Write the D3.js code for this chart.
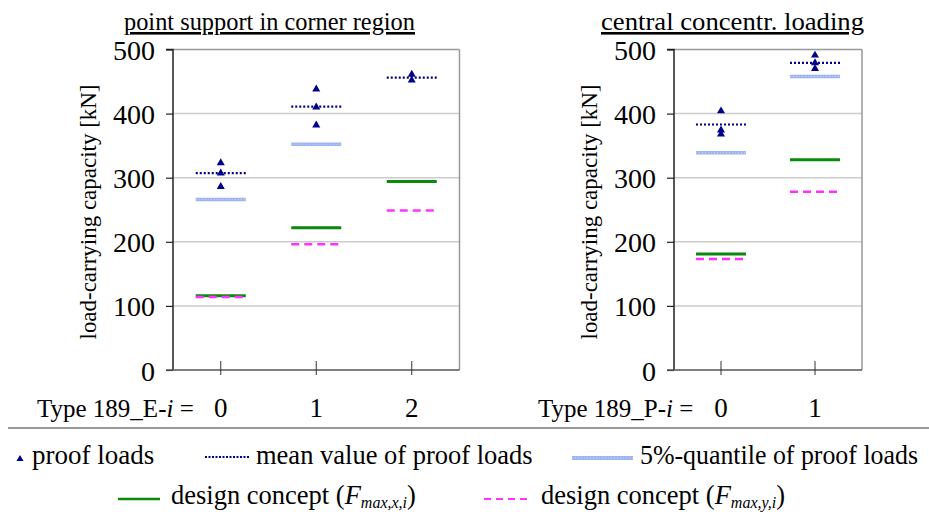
<!DOCTYPE html>
<html><head><meta charset="utf-8">
<script src="https://cdn.jsdelivr.net/npm/d3@7"></script>
<style>body{margin:0;background:#fff}svg{display:block}text{font-family:"Liberation Serif","Times New Roman",serif;fill:#000}</style>
</head><body><svg id="c" width="929" height="515"></svg>
<script>
// ---- data ----
const leftTitle = "point support in corner region";
const rightTitle = "central concentr. loading";
const yTicks = [0,100,200,300,400,500];
const leftCats = ["0","1","2"];
const leftProof = [[323,307,286],[438,410,382],[461,452]];
const leftMean = [307,411,456];
const leftQ5 = [266,352,null];
const leftFx = [116,222,294];
const leftFy = [114,196,249];
const rightCats = ["0","1"];
const rightProof = [[404,374,368],[491,479,470]];
const rightMean = [383,479];
const rightQ5 = [339,458];
const rightFx = [181,328];
const rightFy = [173,278];

const svg = d3.select("#c");
const y = d3.scaleLinear().domain([0,500]).range([370,49.5]);

function panel(o){
  const x = d3.scaleBand().domain(o.cats).range([o.x0,o.x1]);
  const cx = c => x(c) + x.bandwidth()/2;
  const g = svg.append("g");
  g.selectAll(".gl").data(yTicks.filter(t=>t>0)).join("line")
    .attr("x1",o.x0).attr("x2",o.x1).attr("y1",d=>y(d)).attr("y2",d=>y(d))
    .attr("stroke",d=>d===500?"#999":"#ccc").attr("stroke-width",1.5);
  g.append("line").attr("x1",o.x1).attr("x2",o.x1).attr("y1",y(500)).attr("y2",y(0)).attr("stroke","#999").attr("stroke-width",1.5);
  const ya = g.append("g").attr("transform",`translate(${o.x0},0)`)
    .call(d3.axisLeft(y).tickValues(yTicks).tickSize(7).tickPadding(11).tickFormat(d3.format("d")));
  ya.select(".domain").attr("stroke","#222").attr("stroke-width",1.5).attr("d",`M-7,${y(500)}H0V${y(0)}`);
  ya.selectAll(".tick line").attr("stroke","#222").attr("stroke-width",1.2);
  ya.selectAll(".tick text").attr("font-size",28).attr("font-family","Liberation Serif").attr("fill","#000").attr("dy","0.36em");
  const xa = g.append("g").attr("transform",`translate(0,${y(0)})`)
    .call(d3.axisBottom(x).tickSize(0).tickFormat(""));
  xa.select(".domain").attr("stroke","#555").attr("stroke-width",1.5).attr("d",`M${o.x0-7},0H${o.x1}`);
  g.selectAll(".xt").data(o.cats).join("line")
    .attr("x1",cx).attr("x2",cx).attr("y1",y(0)-9).attr("y2",y(0)+5).attr("stroke","#333").attr("stroke-width",1);
  g.selectAll(".xl").data(o.cats).join("text")
    .attr("x",cx).attr("y",417).attr("text-anchor","middle").attr("font-size",27).text(d=>d);
  const tl = g.append("text").attr("x",o.typeX).attr("y",417).attr("font-size",25);
  tl.append("tspan").text(o.typePre);
  tl.append("tspan").attr("font-style","italic").text("i");
  tl.append("tspan").text(" =");
  g.append("text").attr("x",o.titleX).attr("y",30).attr("font-size",26)
    .attr("textLength",o.titleW).attr("lengthAdjust","spacingAndGlyphs")
    .attr("text-decoration","underline").text(o.title);
  g.append("text").attr("transform",`translate(${o.labX},${212}) rotate(-90)`).attr("text-anchor","middle")
    .attr("font-size",24).attr("textLength",255).attr("lengthAdjust","spacingAndGlyphs").text("load-carrying capacity [kN]");
  const hw = 25;
  const seg = (arr, attrs) => {
    const s = g.selectAll(null).data(o.cats.map((c,i)=>({c,v:arr[i]})).filter(d=>d.v!=null)).join("line")
      .attr("x1",d=>cx(d.c)-hw).attr("x2",d=>cx(d.c)+hw).attr("y1",d=>y(d.v)).attr("y2",d=>y(d.v));
    Object.entries(attrs).forEach(([k,v])=>s.attr(k,v));
  };
  seg(o.q5,{stroke:"#9fb4f2","stroke-width":3.5});
  seg(o.q5,{stroke:"#c9d6fa","stroke-width":1,"stroke-dasharray":"1,2"});
  seg(o.fx,{stroke:"#0a8a0a","stroke-width":3});
  seg(o.fy,{stroke:"#ff33ff","stroke-width":2.5,"stroke-dasharray":"8,5"});
  seg(o.mean,{stroke:"#00008b","stroke-width":2.2,"stroke-dasharray":"2,2"});
  const tri = d3.symbol().type(d3.symbolTriangle).size(28);
  const pts = [];
  o.proof.forEach((a,i)=>a.forEach(v=>pts.push({c:o.cats[i],v})));
  g.selectAll(null).data(pts).join("path").attr("d",tri)
    .attr("transform",d=>`translate(${cx(d.c)},${y(d.v)})`).attr("fill","#00008b");
}

panel({cats:leftCats,x0:173,x1:459.5,proof:leftProof,mean:leftMean,q5:leftQ5,fx:leftFx,fy:leftFy,
  title:leftTitle,titleX:124,titleW:291,labX:96,typeX:37,typePre:"Type 189_E-"});
panel({cats:rightCats,x0:674,x1:862,proof:rightProof,mean:rightMean,q5:rightQ5,fx:rightFx,fy:rightFy,
  title:rightTitle,titleX:601,titleW:263,labX:597,typeX:538,typePre:"Type 189_P-"});

svg.append("line").attr("x1",8).attr("x2",929).attr("y1",428).attr("y2",428).attr("stroke","#999").attr("stroke-width",2);

// legend
const L = svg.append("g");
L.append("path").attr("d",d3.symbol().type(d3.symbolTriangle).size(22)).attr("transform","translate(20,459)").attr("fill","#00008b");
L.append("text").attr("x",32).attr("y",464).attr("font-size",27).text("proof loads");
L.append("line").attr("x1",205).attr("x2",250).attr("y1",457).attr("y2",457).attr("stroke","#00008b").attr("stroke-width",2).attr("stroke-dasharray","2,1.5");
L.append("text").attr("x",256).attr("y",464).attr("font-size",26.5).text("mean value of proof loads");
L.append("line").attr("x1",572).attr("x2",633).attr("y1",458).attr("y2",458).attr("stroke","#9fb4f2").attr("stroke-width",4);
L.append("line").attr("x1",572).attr("x2",633).attr("y1",458).attr("y2",458).attr("stroke","#c9d6fa").attr("stroke-width",1).attr("stroke-dasharray","1,2");
L.append("text").attr("x",640).attr("y",464).attr("font-size",26.5).attr("textLength",278).attr("lengthAdjust","spacingAndGlyphs").text("5%-quantile of proof loads");
L.append("line").attr("x1",118).attr("x2",160).attr("y1",499).attr("y2",499).attr("stroke","#0a8a0a").attr("stroke-width",2.5);
L.append("line").attr("x1",484).attr("x2",530).attr("y1",499).attr("y2",499).attr("stroke","#ff33ff").attr("stroke-width",2).attr("stroke-dasharray","7,5");
function dc(x, sub){
  const t = L.append("text").attr("x",x).attr("y",504).attr("font-size",26.5);
  t.append("tspan").text("design concept (");
  t.append("tspan").attr("font-style","italic").text("F");
  t.append("tspan").attr("font-style","italic").attr("font-size",16).attr("dy",4).text(sub);
  t.append("tspan").attr("dy",-4).text(")");
}
dc(171,"max,x,i");
dc(541,"max,y,i");
</script></body></html>
